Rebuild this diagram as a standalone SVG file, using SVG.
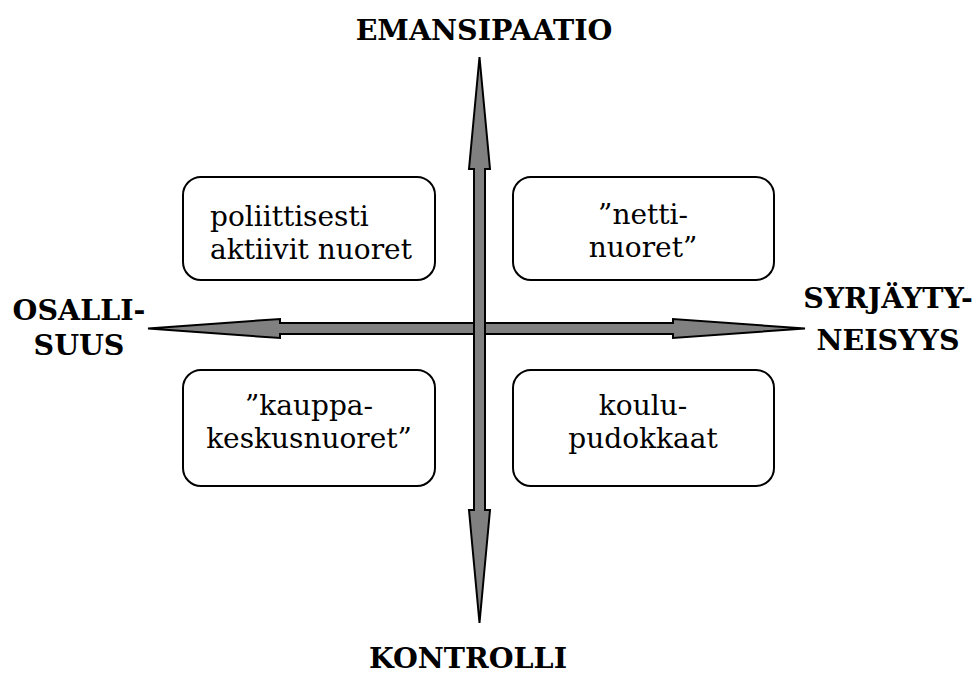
<svg xmlns="http://www.w3.org/2000/svg" width="978" height="678" viewBox="0 0 978 678">
<style>
.box{fill:#fff;stroke:#000;stroke-width:2}
.arrow{fill:#808080;stroke:#000;stroke-width:2;stroke-linejoin:miter}
.t{font-family:"DejaVu Serif",serif;font-size:28px;fill:#000}
.h{font-family:"DejaVu Serif",serif;font-size:28.5px;font-weight:bold;fill:#000;text-anchor:middle}
.c{text-anchor:middle}
</style>
<rect width="978" height="678" fill="#fff"/>
<g id="connectors">
<polygon class="arrow" points="148,328.5 280,319 280,323 673,323 673,319 805,328.5 673,338 673,334 280,334 280,338"/>
<polygon class="arrow" points="479.5,57 490,169 485,169 485,510 490,510 479.5,623 469,510 474,510 474,169 469,169"/>
</g>
<g id="box-tl">
<rect class="box" x="183" y="177" width="252" height="103" rx="18"/>
<text class="t" x="210" y="226">poliittisesti</text>
<text class="t" x="210" y="259">aktiivit nuoret</text>
</g>
<g id="box-tr">
<rect class="box" x="513" y="177" width="261" height="103" rx="18"/>
<text class="t c" x="643" y="224">”netti-</text>
<text class="t c" x="643" y="257">nuoret”</text>
</g>
<g id="box-bl">
<rect class="box" x="183" y="370" width="252" height="116" rx="18"/>
<text class="t c" x="309" y="415">”kauppa-</text>
<text class="t c" x="309" y="448">keskusnuoret”</text>
</g>
<g id="box-br">
<rect class="box" x="513" y="370" width="261" height="116" rx="18"/>
<text class="t c" x="643" y="415">koulu-</text>
<text class="t c" x="643" y="448">pudokkaat</text>
</g>
<g id="label-top"><text class="h" x="484" y="40">EMANSIPAATIO</text></g>
<g id="label-left"><text class="h" x="79" y="320">OSALLI-</text><text class="h" x="79" y="355">SUUS</text></g>
<g id="label-right"><text class="h" x="888" y="308">SYRJÄYTY-</text><text class="h" x="888" y="350">NEISYYS</text></g>
<g id="label-bottom"><text class="h" x="468" y="668">KONTROLLI</text></g>
</svg>
